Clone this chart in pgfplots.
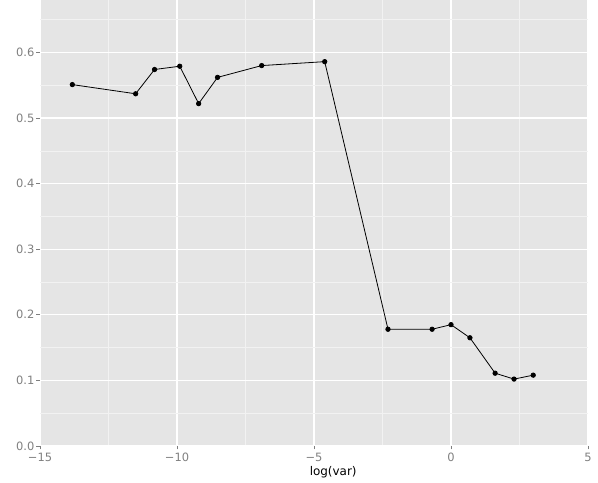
\documentclass[border=0pt]{standalone}
\usepackage{pgfplots}
\pgfplotsset{compat=1.18}
\usepackage{fontspec}
\setmainfont{DejaVu Sans}
\definecolor{panel}{HTML}{E5E5E5}
\definecolor{minorg}{HTML}{F2F2F2}
\definecolor{tickc}{HTML}{7F7F7F}
\begin{document}
\begin{tikzpicture}[x=1bp,y=1bp]
\useasboundingbox (0,0) rectangle (598,483);
\begin{axis}[
  at={(40bp,37bp)}, anchor=south west,
  scale only axis, width=548bp, height=446bp,
  xmin=-15, xmax=5, ymin=0, ymax=0.68,
  axis background/.style={fill=panel},
  axis line style={draw=none},
  xtick={-15,-10,-5,0,5},
  xticklabels={−15,−10,−5,0,5},
  ytick={0,0.1,0.2,0.3,0.4,0.5,0.6},
  yticklabels={0.0,0.1,0.2,0.3,0.4,0.5,0.6},
  minor xtick={-12.5,-7.5,-2.5,2.5},
  minor ytick={0.05,0.15,0.25,0.35,0.45,0.55,0.65},
  grid=both,
  major grid style={white, line width=1.1bp},
  minor grid style={minorg, line width=0.6bp},
  tick style={tickc, line width=0.8bp},
  major tick length=3.5bp, minor tick length=0bp,
  tick align=outside, tick pos=left,
  ticklabel style={font=\fontsize{11.5}{12}\selectfont, text=tickc, inner sep=0pt},
  xticklabel style={yshift=-3bp},
  yticklabel style={xshift=-2bp},
  xlabel={log(var)},
  xlabel style={at={(rel axis cs:0.535,0)}, anchor=north, inner sep=0pt, yshift=-20bp, font=\fontsize{12}{13}\selectfont},
]
\addplot[black, line width=0.8bp, mark=*, mark size=2.2bp, mark options={fill=black}] coordinates {
(-13.82,0.551) (-11.51,0.537) (-10.82,0.574) (-9.90,0.579) (-9.21,0.522)
(-8.52,0.562) (-6.91,0.580) (-4.61,0.586) (-2.30,0.178) (-0.69,0.178)
(0,0.185) (0.69,0.165) (1.61,0.111) (2.30,0.102) (3.00,0.108)
};
\end{axis}
\end{tikzpicture}
\end{document}
